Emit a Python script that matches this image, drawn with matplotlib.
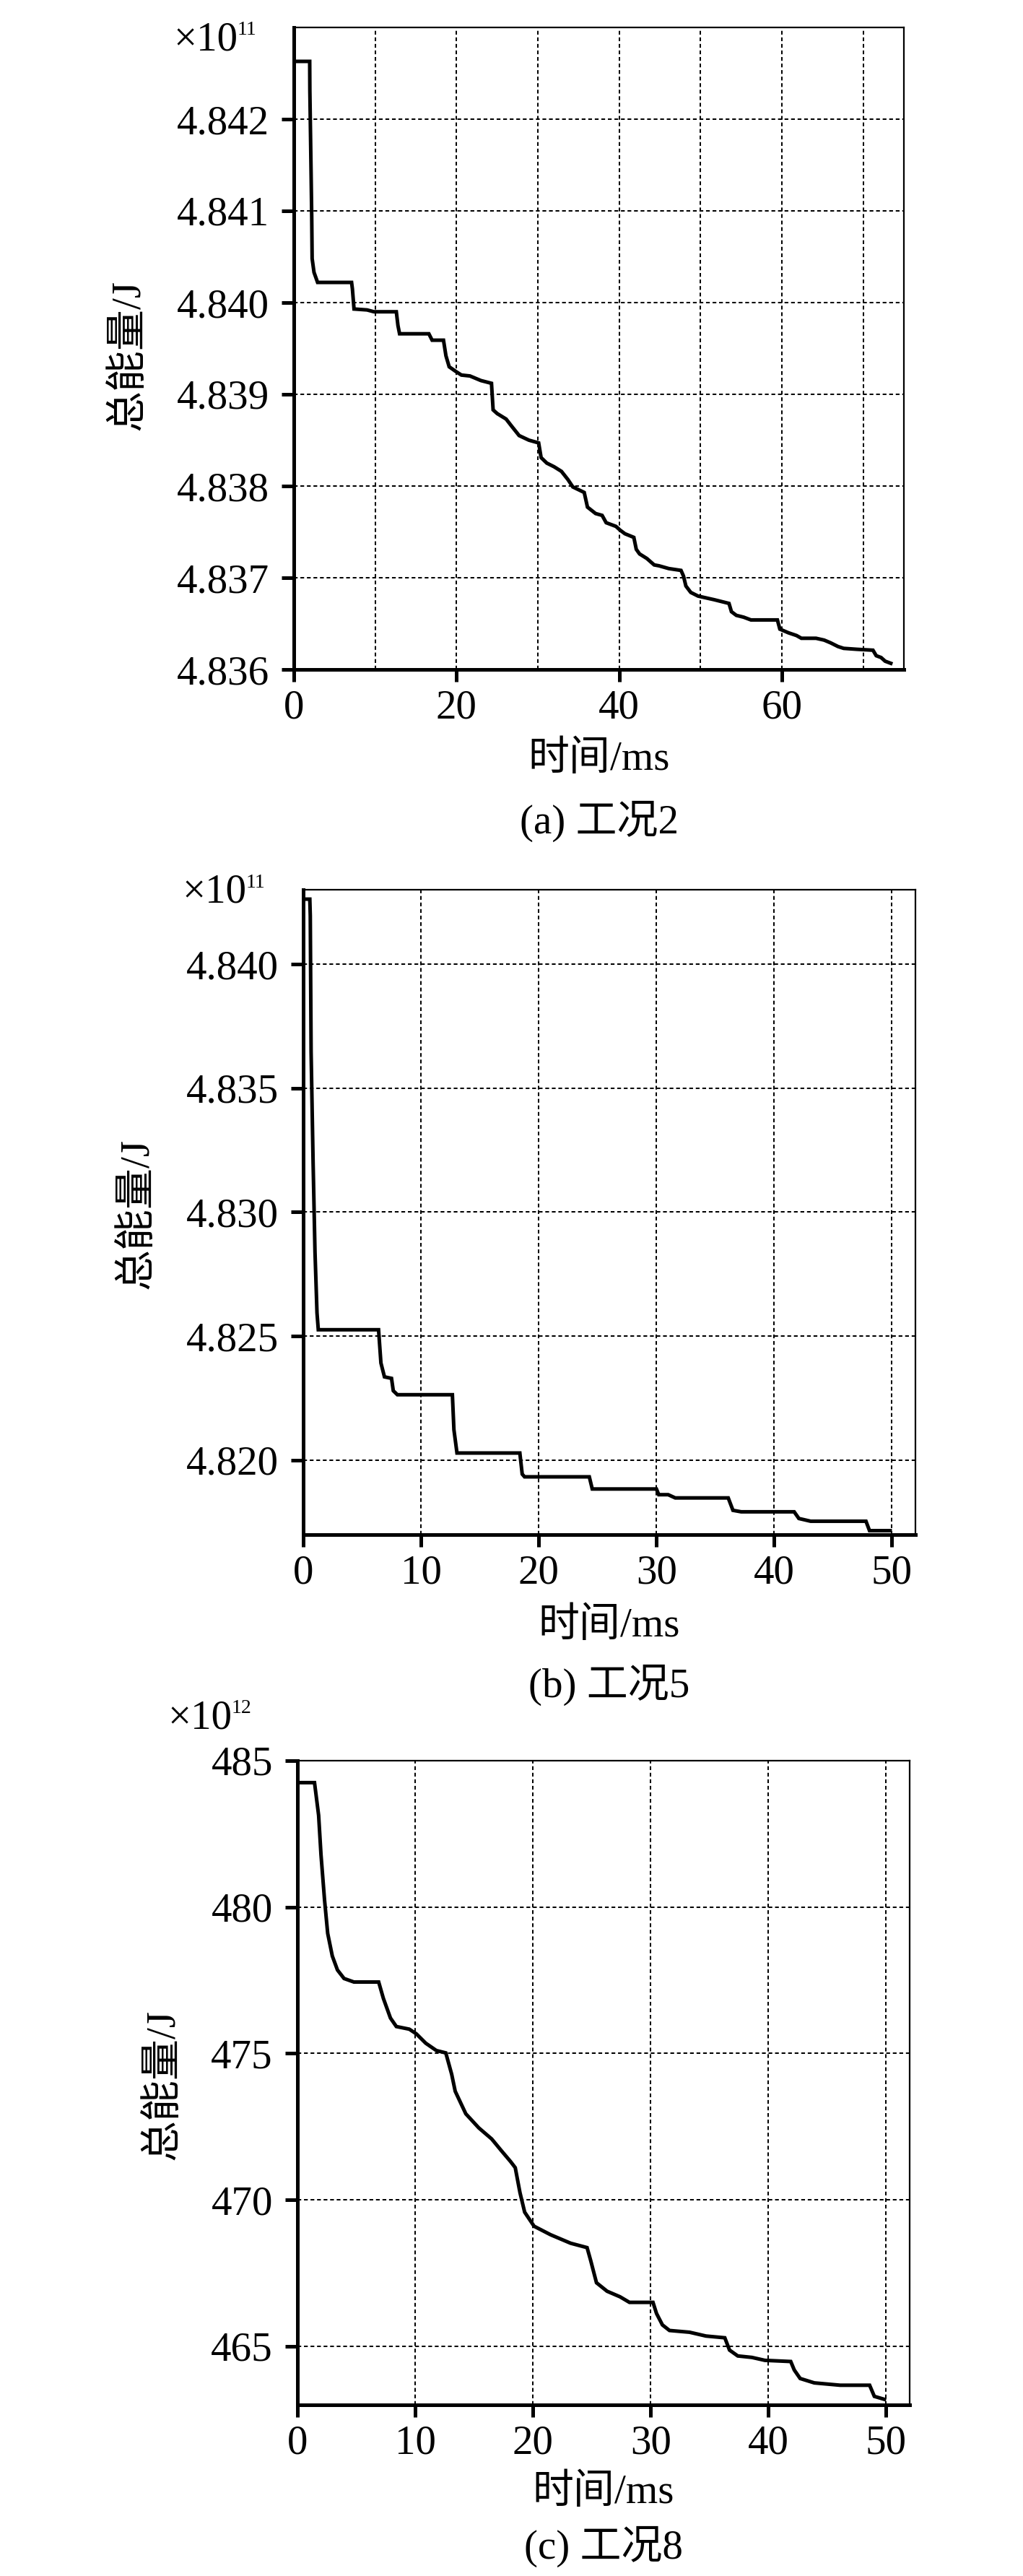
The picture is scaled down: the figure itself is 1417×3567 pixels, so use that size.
import matplotlib
matplotlib.use('Agg')
import matplotlib.pyplot as plt
from matplotlib.ticker import FixedLocator, FormatStrFormatter

plt.rcParams['font.family'] = ['Liberation Serif', 'Noto Sans CJK SC']

W, H, DPI = 1417, 3567, 100

# ---------------- data (energy in units of the axis multiplier) ----------------
# (a) 工况2, ×10^11 J
t_a = [0, 1.95, 1.97, 2.12, 2.2, 2.25, 2.48, 2.92, 7.1, 7.2, 7.4, 9.0, 9.85, 12.6, 12.8, 13.0,
       16.6, 17.0, 18.4, 18.7, 19.1, 19.9, 20.6, 21.65, 23.0, 24.3, 24.5, 25.0, 26.1, 26.8,
       27.7, 28.9, 30.1, 30.4, 31.1, 32.0, 32.9, 33.7, 34.3, 35.7, 36.1, 37.1, 37.9, 38.4,
       39.6, 40.1, 40.7, 41.8, 42.1, 42.5, 43.4, 44.3, 44.9, 46.1, 47.6, 47.9, 48.2, 48.8,
       49.7, 50.7, 51.7, 52.6, 53.5, 53.8, 54.4, 55.3, 56.2, 59.45, 59.75, 60.8, 61.8, 62.4,
       64.2, 65.2, 66.0, 66.9, 67.6, 69.2, 71.2, 71.6, 72.2, 72.7, 73.6]
e_a = [4.84263, 4.84263, 4.84231, 4.84142, 4.84093, 4.84048, 4.84033, 4.84022, 4.84022,
       4.84015, 4.83993, 4.83992, 4.83990, 4.83990, 4.83975, 4.83966, 4.83966, 4.83959,
       4.83959, 4.83942, 4.83930, 4.83925, 4.83921, 4.83920, 4.83915, 4.83912, 4.83883,
       4.83879, 4.83873, 4.83865, 4.83855, 4.83850, 4.83847, 4.83831, 4.83825, 4.83821,
       4.83816, 4.83807, 4.83799, 4.83793, 4.83777, 4.83770, 4.83768, 4.83760, 4.83756,
       4.83752, 4.83748, 4.83744, 4.83731, 4.83726, 4.83721, 4.83714, 4.83713, 4.83710,
       4.83708, 4.83702, 4.83691, 4.83684, 4.83680, 4.83678, 4.83676, 4.83674, 4.83672,
       4.83663, 4.83659, 4.83657, 4.83654, 4.83654, 4.83644, 4.83640, 4.83637, 4.83634,
       4.83634, 4.83632, 4.83629, 4.83625, 4.83623, 4.83622, 4.83621, 4.83615, 4.83613,
       4.83609, 4.83606]

# (b) 工况5, ×10^11 J
t_b = [0, 0.56, 0.6, 0.67, 0.84, 1.0, 1.17, 1.28, 6.4, 6.6, 6.9, 7.5, 7.65, 8.0, 12.67,
       12.8, 13.06, 18.4, 18.6, 18.8, 24.3, 24.55, 30.0, 30.2, 31.0, 31.6, 36.1, 36.5, 37.2,
       41.7, 42.1, 43.1, 47.8, 48.1, 50.0]
e_b = [4.84262, 4.84262, 4.84195, 4.83646, 4.83198, 4.82840, 4.82594, 4.82526, 4.82526,
       4.82392, 4.82336, 4.82330, 4.82280, 4.82264, 4.82264, 4.82123, 4.82029, 4.82029,
       4.81944, 4.81933, 4.81933, 4.81884, 4.81884, 4.81861, 4.81861, 4.81848, 4.81848,
       4.81798, 4.81792, 4.81792, 4.81765, 4.81754, 4.81754, 4.81716, 4.81716]

# (c) 工况8, ×10^12 J
t_c = [0, 1.45, 1.8, 2.0, 2.3, 2.57, 2.96, 3.4, 3.96, 4.8, 6.9, 7.3, 7.9, 8.4, 9.5, 10.1,
       10.9, 11.8, 12.6, 13.1, 13.4, 14.3, 15.4, 16.5, 17.3, 18.1, 18.5, 18.9, 19.3, 20.1,
       21.5, 23.2, 24.6, 24.9, 25.4, 26.3, 27.4, 28.2, 30.2, 30.5, 31.0, 31.6, 33.3, 34.7,
       36.3, 36.7, 37.4, 38.6, 39.7, 41.9, 42.2, 42.7, 43.9, 46.1, 48.6, 49.0, 50.0]
e_c = [484.25, 484.25, 483.13, 481.79, 480.25, 479.10, 478.33, 477.85, 477.56, 477.44,
       477.44, 476.88, 476.21, 475.92, 475.83, 475.67, 475.35, 475.10, 475.02, 474.29,
       473.71, 472.94, 472.46, 472.08, 471.69, 471.31, 471.10, 470.25, 469.58, 469.10,
       468.81, 468.52, 468.37, 467.94, 467.17, 466.88, 466.69, 466.50, 466.50, 466.12,
       465.73, 465.54, 465.48, 465.35, 465.29, 464.87, 464.67, 464.62, 464.52, 464.48,
       464.19, 463.90, 463.75, 463.67, 463.67, 463.29, 463.17]

# axis ticks / grid positions
xt_a = [0, 20, 40, 60]
xg_a = [10, 20, 30, 40, 50, 60, 70]
yt_a = [4.836, 4.837, 4.838, 4.839, 4.840, 4.841, 4.842]
xt_b = [0, 10, 20, 30, 40, 50]
xg_b = [10, 20, 30, 40, 50]
yt_b = [4.820, 4.825, 4.830, 4.835, 4.840]
xt_c = [0, 10, 20, 30, 40, 50]
xg_c = [10, 20, 30, 40, 50]
yt_c = [465, 470, 475, 480, 485]

ylabel = '总能量/J'
xlabel = '时间/ms'

fig = plt.figure(figsize=(W / DPI, H / DPI), dpi=DPI)


def add_ax(l, r, t, b):
    return fig.add_axes([l / W, 1 - b / H, (r - l) / W, (b - t) / H])


GRID = dict(color='black', lw=1.45, ls=(0, (2.6, 1.9)))


def style(ax, xlim, ylim, xticks, xgrid, yticks, yfmt):
    ax.set_xlim(*xlim)
    ax.set_ylim(*ylim)
    ax.xaxis.remove_overlapping_locs = False
    ax.xaxis.set_major_locator(FixedLocator(xticks))
    ax.xaxis.set_minor_locator(FixedLocator(xgrid))
    ax.yaxis.set_major_locator(FixedLocator(yticks))
    ax.yaxis.set_major_formatter(FormatStrFormatter(yfmt))
    ax.tick_params(axis='both', which='major', direction='out', length=12.5, width=3.6,
                   labelsize=41, colors='black')
    ax.tick_params(axis='x', which='major', pad=7)
    ax.tick_params(axis='y', which='major', pad=12)
    ax.tick_params(axis='x', which='minor', length=0)
    ax.set_axisbelow(True)
    ax.grid(True, which='minor', axis='x', **GRID)
    ax.grid(True, which='major', axis='y', **GRID)
    for s in ['left', 'bottom']:
        ax.spines[s].set_linewidth(3.6)
    for s in ['top', 'right']:
        ax.spines[s].set_linewidth(1.6)


def texts(xc, xlab_y, cap_y, cap, yl_x, yl_y, mult_x, mult_y, exp):
    fig.text(xc / W, 1 - xlab_y / H, xlabel, fontsize=41, ha='center', va='center')
    fig.text(xc / W, 1 - cap_y / H, cap, fontsize=41, ha='center', va='center')
    fig.text(yl_x / W, 1 - yl_y / H, ylabel, fontsize=41, ha='center', va='center',
             rotation=90)
    fig.text(mult_x / W, 1 - mult_y / H, '×10', fontsize=41, ha='left', va='baseline')
    fig.text((mult_x + 89) / W, 1 - (mult_y - 21) / H, exp, fontsize=20, ha='left',
             va='baseline')


LINE = dict(color='black', lw=3.6, solid_joinstyle='miter', solid_capstyle='butt')

# (a)
ax = add_ax(407, 1252, 38, 927)
ax.plot(t_a, e_a, **LINE)
style(ax, (0, 75), (4.836, 4.8430), xt_a, xg_a, yt_a, '%.3f')
texts(830, 1052, 1137, '(a) 工况2', 178, 491, 240, 69, '11')

# (b)
ax = add_ax(420, 1268, 1232, 2125)
ax.plot(t_b, e_b, **LINE)
style(ax, (0, 52), (4.8170, 4.8430), xt_b, xg_b, yt_b, '%.3f')
texts(844, 2252, 2333, '(b) 工况5', 190, 1680, 252, 1250, '11')

# (c)
ax = add_ax(412, 1260, 2438, 3330)
ax.plot(t_c, e_c, **LINE)
style(ax, (0, 52), (463, 485), xt_c, xg_c, yt_c, '%d')
texts(836, 3452, 3526, '(c) 工况8', 226, 2886, 232, 2393, '12')

fig.savefig('out.png', dpi=DPI, facecolor='white')
